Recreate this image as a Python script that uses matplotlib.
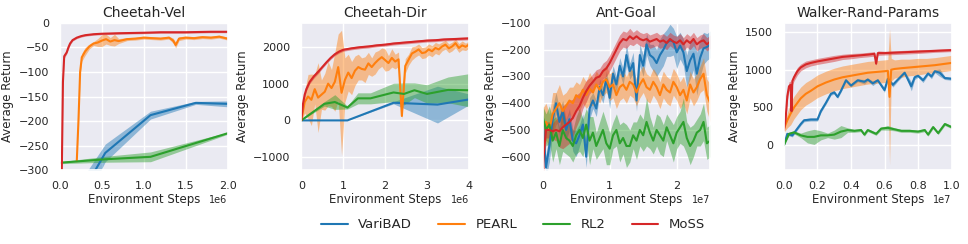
import numpy as np
import matplotlib
matplotlib.use('Agg')
import matplotlib.pyplot as plt
import seaborn as sns

# ---------------- data ----------------
methods = ['VariBAD', 'PEARL', 'RL2', 'MoSS']
colors = ['#1f77b4', '#ff7f0e', '#2ca02c', '#d62728']
titles = ['Cheetah-Vel', 'Cheetah-Dir', 'Ant-Goal', 'Walker-Rand-Params']

# Cheetah-Vel (steps in 1e6)
vel_varibad_x = [0.0, 0.54, 1.08, 1.62, 2.0]
vel_varibad_y = [-425, -265, -188, -163, -165]
vel_varibad_d = [40, 18, 8, 3, 6]
vel_pearl_x = [0.2, 0.22, 0.24, 0.26, 0.3, 0.35, 0.4, 0.45, 0.5, 0.55, 0.6, 0.65, 0.7, 0.8, 0.9,
               1.0, 1.1, 1.2, 1.3, 1.35, 1.38, 1.42, 1.5, 1.6, 1.7, 1.8, 1.9, 2.0]
vel_pearl_y = [-282, -200, -100, -70, -58, -48, -42, -40, -36, -33, -38, -35, -37, -33, -32,
               -30, -31, -32, -30, -36, -45, -32, -30, -31, -29, -30, -28, -32]
vel_pearl_d = [0, 4, 6, 8, 8, 5, 4, 8, 12, 10, 8, 12, 5, 3, 3,
               3, 3, 3, 3, 5, 6, 4, 3, 3, 3, 3, 3, 3]
vel_rl2_x = [0.0, 0.54, 1.08, 2.0]
vel_rl2_y = [-285, -278, -273, -225]
vel_rl2_d = [2, 6, 10, 2]
vel_moss_x = [0.02, 0.035, 0.05, 0.08, 0.1, 0.12, 0.15, 0.2, 0.25, 0.3, 0.4, 0.5, 0.7,
              1.0, 1.2, 1.5, 1.8, 2.0]
vel_moss_y = [-320, -120, -68, -60, -50, -42, -35, -30, -27, -25, -23, -22, -21,
              -20, -19, -19, -18, -18]
vel_moss_d = [3, 5, 4, 3, 3, 3, 2, 2, 2, 2, 2, 2, 2, 2, 2, 2, 2, 2]

# Cheetah-Dir (steps in 1e6)
dir_varibad_x = [0.0, 1.1, 2.2, 3.25, 4.0]
dir_varibad_y = [0, 0, 480, 430, 570]
dir_varibad_d = [0, 0, 30, 500, 150]
dir_pearl_x = [0.0, 0.08, 0.16, 0.24, 0.32, 0.4, 0.48, 0.56, 0.64, 0.72, 0.8, 0.88, 0.96, 1.04,
               1.12, 1.2, 1.28, 1.36, 1.44, 1.52, 1.6, 1.68, 1.76, 1.84, 1.92, 2.0, 2.08, 2.16,
               2.24, 2.32, 2.4, 2.48, 2.56, 2.64, 2.72, 2.8, 2.88, 2.96, 3.04, 3.12, 3.2, 3.28,
               3.36, 3.44, 3.52, 3.6, 3.68, 3.76, 3.84, 3.92, 4.0]
dir_pearl_y = [0, 500, 650, 560, 850, 620, 700, 780, 1000, 880, 1050, 1450, 750, 1100,
               1300, 1150, 1350, 1450, 1400, 1380, 1550, 1450, 1560, 1650, 1720, 1640, 1560, 1700,
               1600, 1660, 120, 1480, 1650, 1820, 1870, 1930, 1830, 1850, 1930, 1880, 1970, 1930,
               2010, 2060, 1960, 2010, 2100, 1970, 2040, 2000, 2060]
dir_pearl_d = [0, 300, 600, 700, 400, 950, 400, 500, 600, 500, 800, 900, 1700, 600,
               500, 450, 400, 350, 300, 350, 300, 250, 300, 250, 250, 300, 200, 250,
               200, 200, 80, 200, 150, 180, 150, 150, 150, 150, 150, 150, 150, 150,
               120, 120, 120, 120, 120, 120, 120, 100, 100]
dir_rl2_x = [0.0, 0.55, 0.8, 1.1, 1.35, 1.65, 2.2, 2.45, 2.7, 3.0, 3.5, 4.0]
dir_rl2_y = [0, 450, 500, 350, 600, 600, 760, 720, 820, 720, 830, 820]
dir_rl2_d = [0, 60, 200, 40, 150, 150, 250, 300, 200, 250, 350, 450]
dir_moss_x = [0.0, 0.04, 0.08, 0.12, 0.2, 0.3, 0.4, 0.5, 0.6, 0.7, 0.8, 0.9, 1.0, 1.2, 1.4,
              1.6, 1.8, 2.0, 2.2, 2.4, 2.6, 2.8, 3.0, 3.2, 3.4, 3.6, 3.8, 4.0]
dir_moss_y = [0, 450, 700, 850, 1050, 1200, 1320, 1450, 1580, 1700, 1800, 1870, 1920, 1960, 1990,
              2010, 2040, 2060, 2090, 2110, 2130, 2150, 2170, 2180, 2200, 2210, 2220, 2230]
dir_moss_d = [0, 60, 60, 50, 50, 50, 50, 40, 40, 40, 40, 40, 40, 40, 40,
              40, 40, 40, 40, 40, 40, 40, 40, 40, 40, 40, 40, 40]

# Ant-Goal (steps in 1e7)
ant_x = [0.0, 0.05, 0.1, 0.15, 0.2, 0.25, 0.3, 0.35, 0.4, 0.45, 0.5, 0.55, 0.6, 0.65, 0.7,
         0.75, 0.8, 0.85, 0.9, 0.95, 1.0, 1.05, 1.1, 1.15, 1.2, 1.25, 1.3, 1.35, 1.4, 1.45,
         1.5, 1.55, 1.6, 1.65, 1.7, 1.75, 1.8, 1.85, 1.9, 1.95, 2.0, 2.05, 2.1, 2.15, 2.2,
         2.25, 2.3, 2.35, 2.4, 2.45, 2.5]
ant_varibad_y = [-470, -640, -560, -460, -400, -470, -430, -500, -460, -540, -550, -520, -480, -600, -420,
                 -390, -420, -340, -370, -310, -380, -290, -330, -260, -300, -220, -280, -250, -390, -220,
                 -260, -180, -220, -230, -250, -220, -200, -175, -165, -170, -210, -185, -210, -280, -240,
                 -215, -290, -230, -195, -190, -180]
ant_varibad_d = [40, 40, 60, 50, 40, 50, 40, 40, 40, 40, 50, 40, 40, 40, 40,
                 30, 30, 30, 30, 30, 40, 30, 30, 30, 30, 40, 30, 40, 40, 40,
                 40, 40, 40, 50, 50, 60, 60, 50, 60, 50, 60, 50, 50, 60, 70,
                 60, 80, 70, 60, 50, 50]
ant_pearl_y = [-480, -470, -500, -440, -420, -400, -430, -410, -390, -400, -370, -380, -350, -370, -345,
               -360, -330, -350, -320, -310, -340, -330, -370, -340, -330, -350, -320, -330, -360, -330,
               -310, -340, -350, -320, -340, -370, -330, -350, -360, -320, -340, -370, -350, -390, -330,
               -360, -340, -310, -290, -370, -400]
ant_pearl_d = [60, 70, 60, 80, 60, 70, 60, 50, 50, 60, 50, 50, 50, 50, 60,
               50, 50, 50, 50, 50, 50, 50, 50, 50, 50, 50, 50, 50, 50, 50,
               50, 50, 50, 50, 50, 50, 50, 50, 50, 50, 50, 50, 50, 50, 50,
               50, 50, 50, 60, 60, 70]
ant_rl2_y = [-450, -500, -480, -540, -510, -560, -500, -530, -540, -560, -520, -500, -530, -480, -540,
             -510, -560, -530, -500, -550, -570, -520, -500, -550, -530, -560, -560, -520, -540, -500,
             -520, -470, -510, -540, -500, -520, -540, -490, -520, -550, -510, -490, -470, -530, -560,
             -540, -510, -500, -470, -550, -540]
ant_rl2_d = [40, 60, 70, 80, 60, 70, 80, 60, 60, 60, 70, 80, 70, 60, 90,
             60, 50, 60, 70, 80, 60, 50, 60, 70, 60, 80, 60, 50, 70, 60,
             60, 90, 60, 50, 60, 70, 60, 50, 60, 70, 60, 60, 90, 60, 70,
             60, 50, 60, 70, 60, 60]
ant_moss_y = [-640, -500, -500, -505, -500, -505, -490, -480, -470, -455, -430, -410, -380, -355, -335,
              -320, -305, -300, -280, -270, -250, -225, -200, -175, -160, -165, -150, -160, -150, -160,
              -165, -160, -170, -165, -160, -170, -165, -175, -160, -170, -175, -165, -180, -165, -175,
              -160, -180, -170, -165, -180, -170]
ant_moss_d = [150, 30, 30, 30, 40, 60, 80, 80, 80, 70, 60, 50, 40, 40, 30,
              30, 30, 30, 30, 30, 30, 30, 30, 30, 30, 30, 30, 25, 25, 25,
              25, 25, 25, 25, 25, 25, 25, 25, 25, 25, 25, 25, 25, 25, 25,
              25, 25, 25, 25, 25, 25]

# Walker-Rand-Params (steps in 1e7)
wlk_varibad_x = [0.0, 0.02, 0.05, 0.08, 0.1, 0.12, 0.16, 0.2, 0.22, 0.25, 0.28, 0.3, 0.32, 0.34,
                 0.37, 0.4, 0.44, 0.48, 0.5, 0.53, 0.56, 0.6, 0.62, 0.65, 0.68, 0.72, 0.76, 0.78,
                 0.8, 0.83, 0.86, 0.88, 0.9, 0.93, 0.96, 1.0]
wlk_varibad_y = [0, 150, 130, 220, 280, 330, 340, 340, 450, 560, 680, 700, 640, 720,
                 860, 790, 860, 840, 870, 820, 860, 730, 880, 800, 870, 960, 780, 900,
                 920, 860, 950, 910, 980, 960, 890, 880]
wlk_varibad_d = [0, 20, 20, 20, 20, 20, 20, 20, 20, 20, 20, 20, 20, 20,
                 20, 20, 20, 30, 20, 30, 20, 30, 20, 30, 20, 20, 60, 30,
                 20, 30, 20, 30, 20, 50, 20, 20]
wlk_pearl_x = [0.0, 0.02, 0.04, 0.06, 0.08, 0.1, 0.13, 0.16, 0.2, 0.25, 0.3, 0.35, 0.4, 0.45,
               0.5, 0.55, 0.6, 0.62, 0.63, 0.64, 0.66, 0.7, 0.75, 0.8, 0.85, 0.9, 0.95, 1.0]
wlk_pearl_y = [220, 330, 420, 500, 560, 620, 680, 720, 780, 830, 870, 900, 920, 940,
               960, 970, 980, 985, 640, 1000, 1010, 1020, 1030, 1040, 1050, 1060, 1075, 1090]
wlk_pearl_d = [50, 100, 150, 150, 150, 150, 150, 150, 150, 150, 150, 150, 150, 150,
               150, 150, 150, 150, 900, 150, 120, 120, 110, 110, 100, 100, 100, 100]
wlk_rl2_x = [0.0, 0.03, 0.06, 0.1, 0.14, 0.18, 0.22, 0.26, 0.3, 0.34, 0.38, 0.42, 0.46, 0.48,
             0.5, 0.52, 0.55, 0.58, 0.62, 0.66, 0.7, 0.75, 0.8, 0.84, 0.86, 0.89, 0.92, 0.96, 1.0]
wlk_rl2_y = [0, 150, 170, 130, 110, 110, 130, 130, 140, 180, 200, 190, 200, 140,
             200, 180, 150, 220, 230, 210, 190, 190, 180, 200, 140, 240, 160, 280, 240]
wlk_rl2_d = [0, 20, 20, 30, 80, 100, 60, 30, 60, 80, 30, 20, 20, 20,
             20, 20, 20, 20, 30, 20, 20, 20, 20, 20, 20, 20, 20, 20, 20]
wlk_moss_x = [0.0, 0.01, 0.02, 0.03, 0.04, 0.045, 0.05, 0.06, 0.08, 0.1, 0.13, 0.16, 0.2, 0.25,
              0.3, 0.35, 0.4, 0.45, 0.5, 0.54, 0.55, 0.56, 0.6, 0.7, 0.8, 0.9, 1.0]
wlk_moss_y = [200, 350, 650, 780, 800, 450, 850, 900, 980, 1030, 1070, 1090, 1110, 1130,
              1150, 1170, 1180, 1190, 1200, 1210, 1080, 1220, 1220, 1230, 1240, 1250, 1260]
wlk_moss_d = [20, 40, 60, 60, 50, 30, 50, 50, 50, 45, 45, 40, 40, 40,
              40, 35, 35, 30, 30, 30, 20, 30, 25, 25, 25, 20, 20]

# ---------------- style ----------------
sns.set_theme(style='darkgrid')
plt.rcParams['font.family'] = ['DejaVu Sans']
plt.rcParams['axes.titlesize'] = 10
plt.rcParams['axes.labelsize'] = 8.5
plt.rcParams['xtick.labelsize'] = 8
plt.rcParams['ytick.labelsize'] = 8


def draw(ax, x, y, d, scale, color, label):
    x = np.asarray(x) * scale
    y = np.asarray(y, dtype=float)
    d = np.asarray(d, dtype=float)
    ax.fill_between(x, y - d, y + d, color=color, alpha=0.45, lw=0)
    ax.plot(x, y, color=color, lw=1.5, label=label)


fig, axes = plt.subplots(1, 4, figsize=(9.68, 2.44), dpi=100)
fig.subplots_adjust(left=0.062, right=0.983, bottom=0.303, top=0.906, wspace=0.44)

ax = axes[0]
draw(ax, vel_varibad_x, vel_varibad_y, vel_varibad_d, 1e6, colors[0], methods[0])
draw(ax, vel_pearl_x, vel_pearl_y, vel_pearl_d, 1e6, colors[1], methods[1])
draw(ax, vel_rl2_x, vel_rl2_y, vel_rl2_d, 1e6, colors[2], methods[2])
draw(ax, vel_moss_x, vel_moss_y, vel_moss_d, 1e6, colors[3], methods[3])
ax.set_xlim(0, 2e6)
ax.set_ylim(-300, 0)
ax.set_xticks([0, 0.5e6, 1e6, 1.5e6, 2e6])

ax = axes[1]
draw(ax, dir_varibad_x, dir_varibad_y, dir_varibad_d, 1e6, colors[0], methods[0])
draw(ax, dir_pearl_x, dir_pearl_y, dir_pearl_d, 1e6, colors[1], methods[1])
draw(ax, dir_rl2_x, dir_rl2_y, dir_rl2_d, 1e6, colors[2], methods[2])
draw(ax, dir_moss_x, dir_moss_y, dir_moss_d, 1e6, colors[3], methods[3])
ax.set_xlim(0, 4e6)
ax.set_ylim(-1350, 2650)
ax.set_yticks([-1000, 0, 1000, 2000])

ax = axes[2]
draw(ax, ant_x, ant_varibad_y, ant_varibad_d, 1e7, colors[0], methods[0])
draw(ax, ant_x, ant_pearl_y, ant_pearl_d, 1e7, colors[1], methods[1])
draw(ax, ant_x, ant_rl2_y, ant_rl2_d, 1e7, colors[2], methods[2])
draw(ax, ant_x, ant_moss_y, ant_moss_d, 1e7, colors[3], methods[3])
ax.set_xlim(0, 2.5e7)
ax.set_ylim(-650, -100)
ax.set_xticks([0, 1e7, 2e7])

ax = axes[3]
draw(ax, wlk_varibad_x, wlk_varibad_y, wlk_varibad_d, 1e7, colors[0], methods[0])
draw(ax, wlk_pearl_x, wlk_pearl_y, wlk_pearl_d, 1e7, colors[1], methods[1])
draw(ax, wlk_rl2_x, wlk_rl2_y, wlk_rl2_d, 1e7, colors[2], methods[2])
draw(ax, wlk_moss_x, wlk_moss_y, wlk_moss_d, 1e7, colors[3], methods[3])
ax.set_xlim(0, 1e7)
ax.set_ylim(-330, 1620)
ax.set_yticks([0, 500, 1000, 1500])

for ax, t in zip(axes, titles):
    ax.set_title(t, pad=4)
    ax.set_xlabel('Environment Steps', labelpad=1)
    ax.set_ylabel('Average Return', labelpad=3)
    ax.tick_params(axis='both', pad=2)
    ax.xaxis.get_offset_text().set_fontsize(7)

handles, labels = axes[0].get_legend_handles_labels()
fig.legend(handles, labels, loc='center', bbox_to_anchor=(0.53, 0.078), ncol=4,
           frameon=False, fontsize=9.5)

fig.savefig('out.png', dpi=100)
